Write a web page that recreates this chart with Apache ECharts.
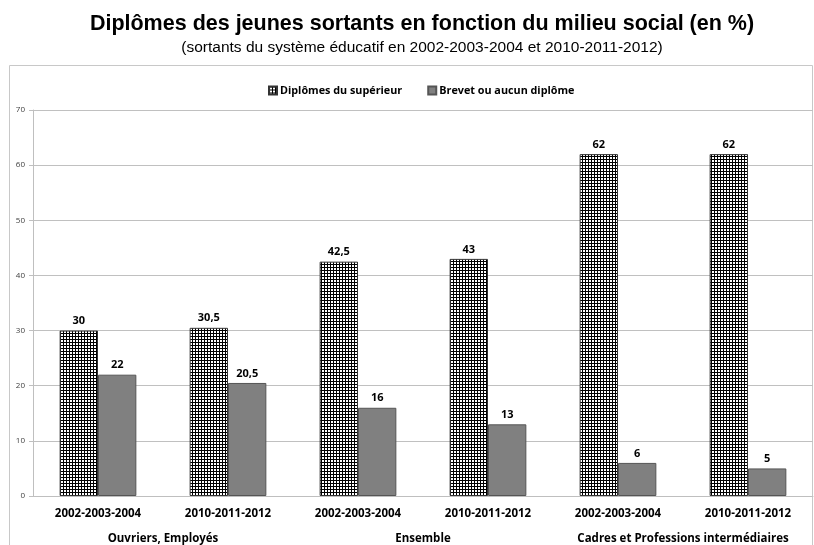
<!DOCTYPE html>
<html>
<head>
<meta charset="utf-8">
<script src="https://cdn.jsdelivr.net/npm/echarts@6/dist/echarts.min.js"></script>
<style>
    html, body { margin: 0; padding: 0; background: #fff; }
    #chart { width: 814px; height: 545px; }
</style>
</head>
<body>
<div id="chart"></div>
<script>
    // périodes (axe 1) et milieux sociaux (axe 2)
    var periodes = ['2002-2003-2004', '2010-2011-2012', '2002-2003-2004', '2010-2011-2012', '2002-2003-2004', '2010-2011-2012'];
    var milieux = ['Ouvriers, Employés', 'Ensemble', 'Cadres et Professions intermédiaires'];
    var superieur = [30, 30.5, 42.5, 43, 62, 62];
    var brevet = [22, 20.5, 16, 13, 6, 5];

    // motif quadrillé pour les diplômes du supérieur
    function makePattern() {
        var c = document.createElement('canvas');
        c.width = 3;
        c.height = 3;
        var ctx = c.getContext('2d');
        ctx.fillStyle = '#000';
        ctx.fillRect(0, 0, 3, 3);
        ctx.fillStyle = '#fff';
        ctx.fillRect(1, 1, 2, 2);
        return c;
    }
    var pattern = { image: makePattern(), repeat: 'repeat' };

    var labelStyle = {
        show: true,
        position: 'top',
        distance: 4,
        color: '#000',
        fontFamily: 'Open Sans',
        fontWeight: 'bold',
        fontSize: 11,
        formatter: function (p) { return String(p.value).replace('.', ','); }
    };

    var chart = echarts.init(document.getElementById('chart'));
    chart.setOption({
        animation: false,
        backgroundColor: '#fff',
        title: {
            text: 'Diplômes des jeunes sortants en fonction du milieu social (en %)',
            subtext: '(sortants du système éducatif en 2002-2003-2004 et 2010-2011-2012)',
            left: 417,
            textAlign: 'center',
            top: 8,
            itemGap: 5,
            textStyle: { fontFamily: 'Liberation Sans', fontSize: 21.5, fontWeight: 'bold', color: '#000' },
            subtextStyle: { fontFamily: 'Liberation Sans', fontSize: 15.5, color: '#000' }
        },
        graphic: [{
            type: 'rect',
            shape: { x: 9.5, y: 65.5, width: 803, height: 490 },
            style: { fill: 'none', stroke: '#c8c8c8', lineWidth: 1 },
            silent: true
        }],
        legend: {
            top: 80,
            left: 263,
            itemWidth: 8,
            itemHeight: 8,
            itemGap: 25,
            icon: 'rect',
            textStyle: { fontFamily: 'Open Sans', fontWeight: 'bold', fontSize: 10.8, color: '#000', padding: [0, 0, 0, -2] },
            data: ['Diplômes du supérieur', 'Brevet ou aucun diplôme']
        },
        grid: { left: 33, right: 1, top: 110, bottom: 49 },
        xAxis: [{
            type: 'category',
            data: periodes,
            axisLine: { lineStyle: { color: '#bfbfbf' } },
            axisTick: { length: 25, lineStyle: { color: '#bfbfbf' } },
            axisLabel: { margin: 12, color: '#000', fontFamily: 'Open Sans', fontWeight: 'bold', fontSize: 11.5, interval: 0 }
        }, {
            type: 'category',
            data: milieux,
            position: 'bottom',
            axisLine: { show: false },
            axisTick: { length: 49, lineStyle: { color: '#bfbfbf' } },
            axisLabel: { margin: 37, color: '#000', fontFamily: 'Open Sans', fontWeight: 'bold', fontSize: 11.5, interval: 0 }
        }],
        yAxis: {
            type: 'value',
            min: 0,
            max: 70,
            interval: 10,
            axisLine: { show: true, lineStyle: { color: '#bfbfbf' } },
            axisTick: { show: true, length: 4, lineStyle: { color: '#bfbfbf' } },
            axisLabel: { margin: 8, color: '#404040', fontFamily: 'Open Sans', fontSize: 8 },
            splitLine: { lineStyle: { color: '#c0c0c0' } }
        },
        series: [{
            name: 'Diplômes du supérieur',
            type: 'bar',
            data: superieur,
            barGap: '0%',
            barCategoryGap: '41%',
            itemStyle: { color: pattern, borderColor: '#333', borderWidth: 1 },
            label: labelStyle
        }, {
            name: 'Brevet ou aucun diplôme',
            type: 'bar',
            data: brevet,
            barGap: '0%',
            barCategoryGap: '41%',
            itemStyle: { color: '#808080', borderColor: '#555', borderWidth: 1 },
            label: labelStyle
        }]
    });
</script>
</body>
</html>
